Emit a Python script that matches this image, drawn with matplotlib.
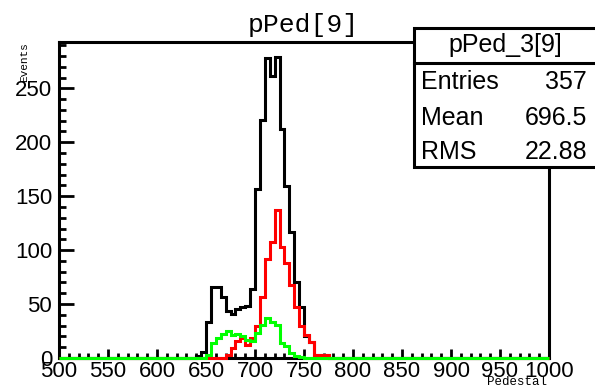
import numpy as np
from matplotlib import pyplot as plt
from matplotlib.patches import Rectangle
from matplotlib.lines import Line2D
from matplotlib.ticker import MultipleLocator

# histogram binning (5 wide bins from 500 to 1000)
X_MIN, X_MAX, BIN_W = 500, 1000, 5

# black: pPed[9]
black_start = 640
black_counts = [2, 6, 33, 66, 66, 57, 44, 41, 45, 47, 48, 64, 157, 221, 278, 261, 279,
                212, 159, 117, 70, 47, 20, 15, 3, 3, 3]
# red
red_start = 670
red_counts = [3, 9, 16, 19, 12, 19, 30, 57, 92, 108, 137, 103, 88, 68, 47, 30, 21, 15, 3, 3, 3]
# green: pPed_3[9]
green_start = 650
green_counts = [3, 14, 19, 22, 25, 21, 22, 20, 17, 16, 23, 31, 37, 33, 31, 14, 11, 5, 2, 1]

stat_title = 'pPed_3[9]'
stat_rows = [('Entries', '357'), ('Mean', '696.5'), ('RMS', '22.88')]

edges = np.arange(X_MIN, X_MAX + BIN_W, BIN_W)


def full_hist(start, counts):
    h = np.zeros(len(edges) - 1)
    i0 = (start - X_MIN) // BIN_W
    h[i0:i0 + len(counts)] = counts
    return h


W, H = 595, 386
fig = plt.figure(figsize=(W / 100, H / 100), dpi=100)
ax = fig.add_axes([59 / W, 1 - 358 / H, 490 / W, 316 / H])

for start, counts, col in [(black_start, black_counts, 'black'),
                           (red_start, red_counts, '#ff0000'),
                           (green_start, green_counts, '#00ff00')]:
    ax.stairs(full_hist(start, counts), edges, color=col, lw=2.2, clip_on=False, zorder=3)

ax.set_xlim(X_MIN, X_MAX)
ax.set_ylim(0, 292.95)

for s in ax.spines.values():
    s.set_linewidth(2.2)

ax.xaxis.set_major_locator(MultipleLocator(50))
ax.xaxis.set_minor_locator(MultipleLocator(10))
ax.yaxis.set_major_locator(MultipleLocator(50))
ax.yaxis.set_minor_locator(MultipleLocator(10))
ax.tick_params(which='both', direction='in', top=False, right=False, width=2, zorder=1)
ax.tick_params(axis='y', which='major', length=10.5, pad=5)
ax.tick_params(axis='y', which='minor', length=5)
ax.tick_params(axis='x', which='major', length=6.5, pad=2)
ax.tick_params(axis='x', which='minor', length=3.3)
for lab in ax.get_xticklabels() + ax.get_yticklabels():
    lab.set_fontfamily('Liberation Sans')
    lab.set_fontsize(16)

fig.text(24 / W, 1 - 42 / H, 'Events', family='Liberation Mono', size=8,
         rotation=90, ha='center', va='top')
fig.text(547 / W, 1 - 382 / H, 'Pedestal', family='Liberation Mono', size=9,
         ha='right', va='center')

fig.text(303 / W, 1 - 25 / H, 'pPed[9]', family='Liberation Mono', size=19,
         ha='center', va='center')

# stat box
box_l, box_t, box_b, box_r = 414, 28, 167, 600
fig.add_artist(Rectangle((box_l / W, 1 - box_b / H), (box_r - box_l) / W, (box_b - box_t) / H,
                         transform=fig.transFigure, facecolor='white', edgecolor='black',
                         lw=2.2, zorder=5))
fig.add_artist(Line2D([box_l / W, box_r / W], [1 - 63 / H, 1 - 63 / H],
                      transform=fig.transFigure, color='black', lw=2.2, zorder=6))
fig.text(505 / W, 1 - 45 / H, stat_title, family='Liberation Sans', size=18,
         ha='center', va='center', zorder=7)
for (name, val), y in zip(stat_rows, [82, 118, 152]):
    fig.text(421 / W, 1 - y / H, name, family='Liberation Sans', size=18,
             ha='left', va='center', zorder=7)
    fig.text(587 / W, 1 - y / H, val, family='Liberation Sans', size=18,
             ha='right', va='center', zorder=7)

fig.savefig('out.png', dpi=100)
